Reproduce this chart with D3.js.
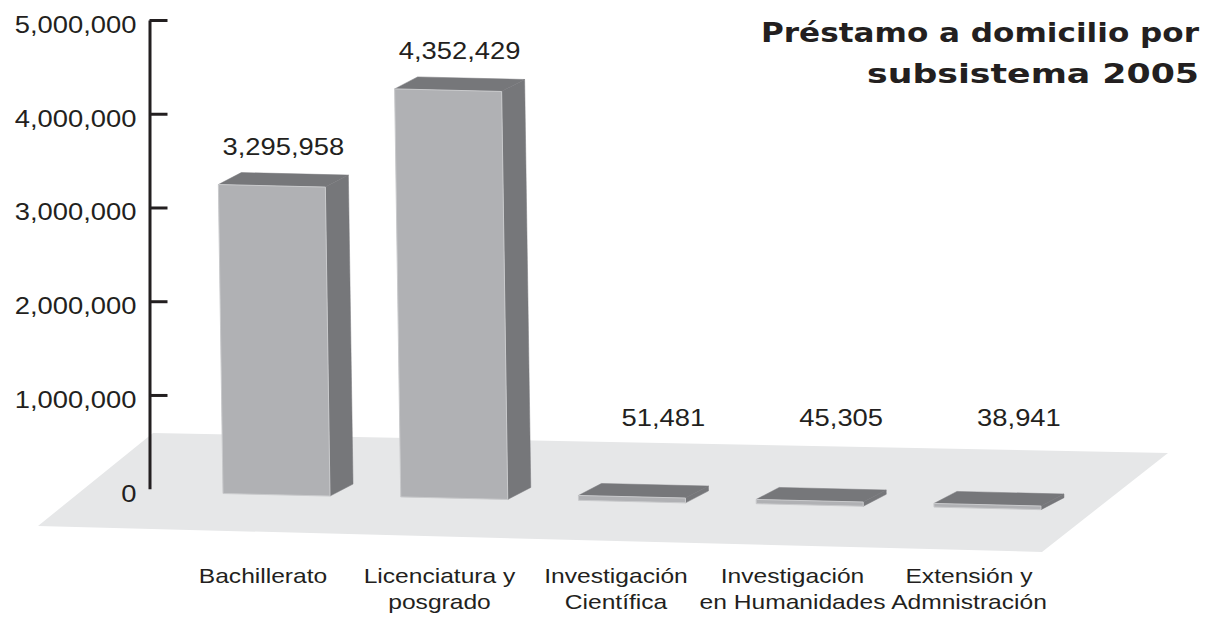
<!DOCTYPE html>
<html>
<head>
<meta charset="utf-8">
<script src="https://cdn.jsdelivr.net/npm/d3@7"></script>
<style>
  body { margin: 0; background: #fff; }
  text { fill: #231f20; }
</style>
</head>
<body>
<div id="chart-area"></div>
<script>
// chart data
const categories = ['Bachillerato', 'Licenciatura y posgrado', 'Investigación Científica', 'Investigación en Humanidades', 'Extensión y Admnistración'];
const labelLines = [['Bachillerato'], ['Licenciatura y', 'posgrado'], ['Investigación', 'Científica'], ['Investigación', 'en Humanidades'], ['Extensión y', 'Admnistración']];
const values = [3295958, 4352429, 51481, 45305, 38941];
const tickValues = [0, 1000000, 2000000, 3000000, 4000000, 5000000];
const titleLines = ['Préstamo a domicilio por', 'subsistema 2005'];

const width = 1214;
const height = 621;

// colours
const frontColor = '#b0b1b4';
const darkColor = '#76777a';
const floorColor = '#e6e7e8';
const edgeColor = '#c9cacc';
const textFont = '"Liberation Sans", Arial, sans-serif';
const stretch = 1.19; // the original type is set wide

const svg = d3.select('#chart-area').append('svg')
    .attr('width', width)
    .attr('height', height)

// value axis, 0 at the floor
const y = d3.scaleLinear()
    .domain([0, 5000000])
    .range([488.7, 20]);

// bars (front face, left edge) spread along the floor
const x = d3.scaleBand()
    .domain(categories)
    .range([223, 1041])
    .paddingInner(0.398)
    .paddingOuter(0);

// label positions under the floor
const xLabel = d3.scalePoint()
    .domain(categories)
    .range([263, 969]);

// floor sinks a bit to the right (fake perspective)
const base = d3.scaleLinear().domain([223, 934]).range([493.5, 507.1]);
const tilt = 0.024;   // slope of front bottom edge
const lean = 0.015;   // top drifts left as the bar grows
const depth = { dx: 23, dy: -12 };

const w = x.bandwidth();
const x0 = x.range()[0];
const x1 = x.range()[1];

// floor
const floorPts = [
    [x0 - 70, base(x0) - 60.5],
    [x1 + 127, base(x1 - w) + w * tilt - 56.7],
    [x1 + 1, base(x1 - w) + w * tilt + 42.3],
    [x0 - 185, base(x0) + 32.5]
];
svg.append('polygon')
    .attr('points', floorPts.map(p => p.join(',')).join(' '))
    .attr('fill', floorColor);

// axis
const yAxisGroup = svg.append('g')
    .attr('class', 'y axis')
    .attr('transform', 'translate(149.5,0)')
    .call(d3.axisLeft(y)
        .tickValues(tickValues)
        .tickSizeInner(-18)
        .tickSizeOuter(0)
        .tickPadding(13)
        .tickFormat(d3.format(',')));

yAxisGroup.select('.domain')
    .attr('stroke', '#231f20')
    .attr('stroke-width', 3);
yAxisGroup.selectAll('.tick line')
    .attr('stroke', '#231f20')
    .attr('stroke-width', 3)
    .attr('display', d => d === 0 ? 'none' : null);
yAxisGroup.selectAll('.tick text')
    .attr('x', 0)
    .attr('transform', `translate(-13,5) scale(${stretch},1)`)
    .attr('fill', '#231f20')
    .style('font-family', textFont)
    .style('font-size', '23px');

// bar geometry
function corners(d, i) {
    const xl = x(categories[i]);
    const yb = base(xl);
    const ybR = yb + w * tilt;
    const h = y(0) - y(d);
    const s = lean * h;
    return {
        bl: [xl, yb],
        br: [xl + w, ybR],
        tr: [xl + w - s, ybR - h],
        tl: [xl - s, yb - h]
    };
}
const shift = p => [p[0] + depth.dx, p[1] + depth.dy];
const pts = arr => arr.map(p => p.join(',')).join(' ');

const bars = svg.selectAll('g.bar')
    .data(values)
    .enter().append('g')
    .attr('class', 'bar');

// side face
bars.append('polygon')
    .attr('points', (d, i) => {
        const c = corners(d, i);
        return pts([c.br, c.tr, shift(c.tr), shift(c.br)]);
    })
    .attr('fill', darkColor)
    .attr('stroke', darkColor)
    .attr('stroke-width', 0.5);

// top face
bars.append('polygon')
    .attr('points', (d, i) => {
        const c = corners(d, i);
        return pts([c.tl, c.tr, shift(c.tr), shift(c.tl)]);
    })
    .attr('fill', darkColor)
    .attr('stroke', darkColor)
    .attr('stroke-width', 0.5);

// front face
bars.append('polygon')
    .attr('points', (d, i) => {
        const c = corners(d, i);
        return pts([c.bl, c.br, c.tr, c.tl]);
    })
    .attr('fill', frontColor)
    .attr('stroke', edgeColor)
    .attr('stroke-width', 1);

// value labels above the bars (flat bars get their labels on a common row)
svg.selectAll('text.value')
    .data(values)
    .enter().append('text')
    .attr('class', 'value')
    .attr('transform', (d, i) => {
        const c = corners(d, i);
        const flat = y(0) - y(d) < 40;
        const lx = (c.tl[0] + c.tr[0]) / 2 + depth.dx / 2 + (flat ? 20 : 0);
        const ly = Math.min(c.tl[1] + depth.dy - 18, 426);
        return `translate(${lx},${ly}) scale(${stretch},1)`;
    })
    .attr('text-anchor', 'middle')
    .style('font-family', textFont)
    .style('font-size', '23px')
    .text(d => d3.format(',')(d));

// category labels
const catLabels = svg.selectAll('text.cat')
    .data(categories)
    .enter().append('text')
    .attr('class', 'cat')
    .attr('text-anchor', 'middle')
    .attr('transform', d => `translate(${xLabel(d)},0) scale(1.2,1)`)
    .style('font-family', textFont)
    .style('font-size', '20.5px');

catLabels.selectAll('tspan')
    .data((d, i) => labelLines[i])
    .enter().append('tspan')
    .attr('x', 0)
    .attr('y', (d, j) => 583 + j * 26)
    .text(d => d);

// title
const titleLength = [438, 332];
svg.selectAll('text.title')
    .data(titleLines)
    .enter().append('text')
    .attr('class', 'title')
    .attr('x', 1199)
    .attr('y', (d, i) => 42 + i * 41)
    .attr('text-anchor', 'end')
    .attr('textLength', (d, i) => titleLength[i])
    .attr('lengthAdjust', 'spacingAndGlyphs')
    .style('font-family', '"DejaVu Sans", sans-serif')
    .style('font-weight', 'bold')
    .style('font-size', '27px')
    .text(d => d);
</script>
</body>
</html>
